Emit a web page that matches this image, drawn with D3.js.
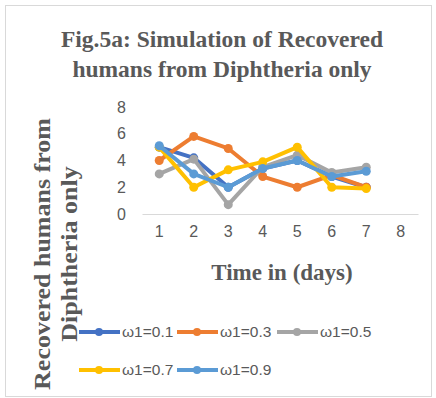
<!DOCTYPE html>
<html>
<head>
<meta charset="utf-8">
<script src="https://cdn.jsdelivr.net/npm/d3@7"></script>
<style>
  body { margin: 0; background: #fff; }
  text { fill: #595959; }
</style>
</head>
<body>
<script>
// chart data
const days = [1, 2, 3, 4, 5, 6, 7, 8];
const seriesNames = ["ω1=0.1", "ω1=0.3", "ω1=0.5", "ω1=0.7", "ω1=0.9"];
const w01 = [5, 4.2, 2, 3.4, 4, 2.8, 2];
const w03 = [4, 5.8, 4.9, 2.8, 2, 2.9, 2];
const w05 = [3, 4.1, 0.7, 3.5, 4.4, 3.1, 3.5];
const w07 = [5, 2, 3.3, 3.9, 5, 2, 1.9];
const w09 = [5.1, 3, 2, 3.4, 4, 2.8, 3.2];
const yTicks = [0, 2, 4, 6, 8];
const colors = ["#4472C4", "#ED7D31", "#A5A5A5", "#FFC000", "#5B9BD5"];

const allSeries = [w01, w03, w05, w07, w09];

const width = 436, height = 398;
const svg = d3.select("body").append("svg")
  .attr("width", width)
  .attr("height", height);

const serif = "Liberation Serif, Times New Roman, serif";
const sans = "Liberation Sans, Arial, sans-serif";

// outer frame
svg.append("rect")
  .attr("x", 5.5).attr("y", 5.5)
  .attr("width", 426).attr("height", 391)
  .attr("fill", "#fff")
  .attr("stroke", "#d9d9d9");

// title
const title = svg.append("text")
  .attr("text-anchor", "middle")
  .attr("font-family", serif)
  .attr("font-weight", "bold")
  .attr("font-size", 23.5);
title.append("tspan").attr("x", 222).attr("y", 47).text("Fig.5a: Simulation of Recovered");
title.append("tspan").attr("x", 222).attr("y", 77).text("humans from Diphtheria only");

const x = d3.scaleBand().domain(days).range([142, 418]);
const y = d3.scaleLinear().domain([0, 8]).range([214, 107]);

// x axis
const xAxis = svg.append("g")
  .attr("transform", "translate(0,214)")
  .call(d3.axisBottom(x).tickSize(0).tickPadding(12));
xAxis.select(".domain").attr("stroke", "#d9d9d9");
xAxis.selectAll("text")
  .attr("font-family", sans)
  .attr("font-size", 16)
  .attr("fill", "#595959");

// y axis
const yAxis = svg.append("g")
  .attr("transform", "translate(130,0)")
  .call(d3.axisLeft(y).tickValues(yTicks).tickSize(0).tickPadding(4));
yAxis.select(".domain").remove();
yAxis.selectAll("text")
  .attr("font-family", sans)
  .attr("font-size", 16)
  .attr("fill", "#595959");

// axis titles
svg.append("text")
  .attr("x", 282).attr("y", 280)
  .attr("text-anchor", "middle")
  .attr("font-family", serif)
  .attr("font-weight", "bold")
  .attr("font-size", 23)
  .text("Time in (days)");

// y title is stretched along its length in the original
const yTitle = svg.append("text")
  .attr("transform", "translate(0,254) rotate(-90) scale(1.13,1)")
  .attr("text-anchor", "middle")
  .attr("font-family", serif)
  .attr("font-weight", "bold")
  .attr("font-size", 23);
yTitle.append("tspan").attr("x", 0).attr("y", 50).text("Recovered humans from");
yTitle.append("tspan").attr("x", 0).attr("y", 77).text("Diphtheria only");

// lines
const line = d3.line()
  .x((d, i) => x(days[i]) + x.bandwidth() / 2)
  .y(d => y(d));

allSeries.forEach((vals, k) => {
  const g = svg.append("g");
  g.append("path")
    .datum(vals)
    .attr("d", line)
    .attr("fill", "none")
    .attr("stroke", colors[k])
    .attr("stroke-width", 4)
    .attr("stroke-linejoin", "round");
  g.selectAll("circle")
    .data(vals)
    .enter().append("circle")
    .attr("cx", (d, i) => x(days[i]) + x.bandwidth() / 2)
    .attr("cy", d => y(d))
    .attr("r", 4.5)
    .attr("fill", colors[k]);
});

// legend
const legendPos = [[79, 332], [177, 332], [277, 332], [79, 370], [177, 370]];
seriesNames.forEach((name, k) => {
  const [lx, ly] = legendPos[k];
  const g = svg.append("g").attr("transform", `translate(${lx},${ly})`);
  g.append("line")
    .attr("x1", 0).attr("x2", 41)
    .attr("y1", 0).attr("y2", 0)
    .attr("stroke", colors[k])
    .attr("stroke-width", 4);
  g.append("circle").attr("cx", 20).attr("cy", 0).attr("r", 4).attr("fill", colors[k]);
  g.append("text")
    .attr("x", 43).attr("y", 0)
    .attr("dy", "0.35em")
    .attr("font-family", sans)
    .attr("font-size", 15.5)
    .text(name);
});
</script>
</body>
</html>
